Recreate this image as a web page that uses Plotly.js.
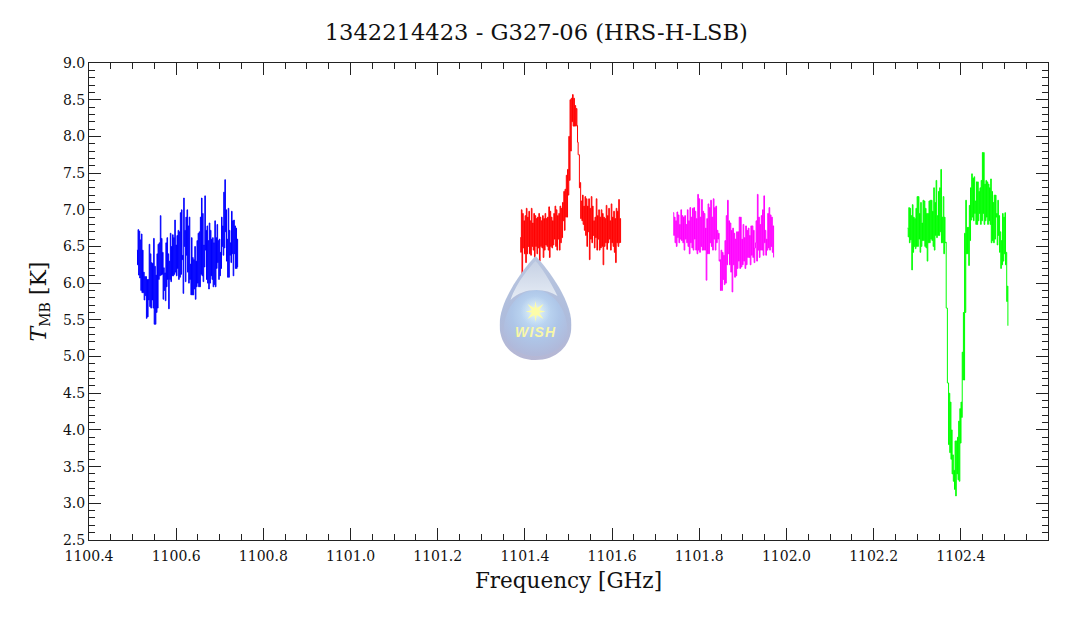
<!DOCTYPE html>
<html><head><meta charset="utf-8">
<script src="https://cdn.plot.ly/plotly-3.0.1.min.js"></script>
<style>html,body{margin:0;padding:0;background:#fff}</style></head><body>
<div id="chart" style="width:1072px;height:618px"></div>
<script>
const titleText = "1342214423 - G327-06 (HRS-H-LSB)";
const xLabel = "Frequency [GHz]";
const yLabel = "<i>T</i><sub><span style=\"font-size:14px\">MB</span></sub> [K]";
const bandBlue = [1100.510, 1100.741], bandRed = [1101.389, 1101.6195], bandMagenta = [1101.740, 1101.9705], bandGreen = [1102.278, 1102.508];
const blueT = [6.45,6.25,6.73,6.11,6.71,6.07,6.59,5.90,6.67,5.87,6.45,5.87,6.15,5.77,6.09,5.83,6.09,5.52,6.05,5.54,6.05,5.77,6.53,5.68,6.40,5.66,6.28,5.77,6.27,5.66,6.61,5.44,6.23,5.44,6.11,5.60,6.40,5.66,6.53,6.05,6.55,6.10,6.92,6.11,6.61,6.12,6.42,5.78,6.21,5.90,6.14,5.76,6.55,5.95,6.62,6.05,6.40,5.65,6.30,6.05,6.68,6.02,6.50,6.10,6.66,6.10,6.62,6.12,6.86,6.15,6.52,6.10,6.65,6.20,6.72,6.05,6.70,6.08,6.96,6.12,7.00,6.32,6.38,5.86,7.16,6.50,6.72,6.02,6.90,6.38,7.00,6.15,6.78,6.00,6.90,6.05,6.26,5.84,6.62,5.84,6.35,5.84,6.32,5.92,6.50,5.78,6.30,5.95,6.58,6.00,6.68,5.95,6.70,5.95,6.90,6.12,7.16,6.10,6.95,6.02,6.52,6.22,7.19,6.45,6.72,6.05,6.78,6.00,6.58,5.92,6.82,6.00,6.72,6.10,6.60,6.05,6.62,5.95,6.55,5.98,6.85,5.95,6.62,6.20,6.80,6.28,6.58,6.05,6.60,6.10,6.42,6.20,6.90,6.50,6.78,6.38,7.24,6.48,7.41,6.70,7.00,6.30,6.60,6.08,7.02,6.08,6.72,6.38,6.55,6.28,6.98,6.40,6.85,6.10,6.86,6.40,6.78,6.20,6.75,6.20,6.60,6.22];
const redT = [6.62,6.42,7.00,6.12,6.95,6.48,6.85,6.40,6.92,6.28,7.02,6.40,6.90,6.50,6.98,6.40,6.85,6.38,7.02,6.50,6.82,6.45,6.95,6.35,6.92,6.50,6.88,6.40,6.90,6.48,6.95,6.30,6.90,6.50,6.85,6.48,6.92,6.35,6.88,6.45,6.95,6.52,6.88,6.50,6.90,6.45,7.04,6.35,6.98,6.50,6.90,6.48,6.85,6.52,6.95,6.60,7.05,6.50,7.00,6.45,6.92,6.60,6.95,6.45,7.05,6.55,7.02,6.62,7.10,6.85,7.25,6.72,7.28,6.90,7.47,6.90,7.55,7.20,8.00,7.40,8.50,7.80,8.52,8.20,8.57,8.14,8.52,8.14,8.42,8.14,8.38,8.15,7.92,7.75,7.75,7.30,7.37,6.88,7.12,6.85,7.20,6.80,7.05,6.72,7.18,6.65,7.15,6.50,7.05,6.70,7.15,6.32,7.02,6.60,7.18,6.55,7.05,6.65,6.85,6.48,6.90,6.62,7.15,6.45,6.92,6.60,7.00,6.45,6.90,6.48,7.00,6.50,6.95,6.25,6.90,6.50,6.88,6.55,7.06,6.46,6.92,6.55,7.02,6.60,6.85,6.45,7.08,6.55,6.90,6.50,6.98,6.42,6.88,6.28,7.02,6.55,6.98,6.50,7.14,6.55,6.88,6.55];
const magentaT = [6.96,6.65,6.90,6.55,6.85,6.50,6.97,6.62,6.93,6.55,6.80,6.60,7.00,6.58,6.92,6.55,6.90,6.45,6.92,6.60,6.80,6.55,7.00,6.50,6.85,6.40,7.03,6.55,6.90,6.48,7.02,6.45,7.03,6.60,6.98,6.45,6.88,6.40,7.21,6.45,7.15,6.42,6.90,6.50,7.14,6.45,6.98,6.45,6.95,6.45,6.75,6.04,6.88,6.40,7.08,6.40,7.03,6.55,7.13,6.50,6.90,6.45,7.15,6.60,7.03,6.45,7.05,6.55,6.72,6.60,6.68,6.30,6.32,5.90,6.45,5.90,6.42,6.05,6.38,5.98,6.58,6.00,6.92,6.25,7.13,6.40,6.85,6.25,6.82,6.15,6.72,5.88,6.75,6.25,6.68,6.08,6.60,6.10,6.70,6.20,6.70,6.30,6.90,6.20,6.90,6.22,6.60,6.25,6.80,6.30,6.62,6.20,6.78,6.25,6.72,6.35,6.75,6.35,6.65,6.25,6.78,6.38,6.78,6.35,6.72,6.28,6.48,6.55,6.85,6.30,7.21,6.45,6.90,6.35,6.80,6.45,6.92,6.45,7.00,6.38,7.19,6.55,6.72,6.38,6.60,6.45,6.95,6.48,7.03,6.45,6.93,6.50,6.90,6.42,6.78,6.35];
const greenT = [6.75,6.63,7.03,6.55,7.02,6.59,6.92,6.18,7.07,6.42,6.90,6.50,6.88,6.47,7.02,6.50,7.18,6.50,7.18,6.60,6.95,6.42,7.10,6.50,6.82,6.58,7.13,6.58,7.12,6.50,7.02,6.48,6.95,6.30,6.95,6.55,7.12,6.55,7.13,6.60,7.13,6.58,6.98,6.50,7.30,6.45,7.10,6.65,7.40,6.62,6.92,6.65,7.25,6.65,7.30,6.70,7.55,6.55,6.90,6.55,7.18,6.40,6.90,6.55,6.56,5.66,5.66,4.64,4.64,3.80,4.50,3.69,4.38,3.60,4.00,3.40,3.66,3.30,3.45,3.19,3.85,3.10,3.85,3.40,3.90,3.32,4.12,3.30,4.29,3.82,4.38,4.17,5.06,4.68,5.60,4.68,6.68,5.60,7.13,6.40,6.76,6.40,6.76,6.24,7.06,6.58,7.30,6.86,7.49,6.90,7.43,6.85,7.45,6.95,7.12,6.80,7.38,6.80,7.38,6.85,7.25,6.95,7.30,6.80,7.40,6.85,7.78,6.95,7.78,6.80,7.35,6.85,7.40,6.90,7.38,6.80,7.35,6.85,7.30,6.80,7.42,6.55,7.25,6.58,7.10,6.55,7.20,6.60,7.20,6.90,6.95,6.52,7.13,6.65,6.92,6.42,6.70,6.20,6.58,6.25,6.95,6.30,6.90,6.40,6.96,6.25,6.42,5.75,5.96,5.42];

const serif = "DejaVu Serif";
const ax = {showline:true, linecolor:"#222", linewidth:1, mirror:"allticks", ticks:"inside", ticklen:12, tickcolor:"#222", tickwidth:1, showgrid:false, zeroline:false, tickformat:".1f", tickfont:{family:serif, size:14, color:"#111"}};
const tr = (c, band, y) => ({type:"scatter", mode:"lines", x0:band[0], dx:(band[1]-band[0])/(y.length-1), y:y, line:{color:c, width:1, shape:"hv"}, hoverinfo:"skip", showlegend:false});
const logo = '<svg xmlns="http://www.w3.org/2000/svg" width="216" height="312" viewBox="0 0 72 104"><defs>'+
'<linearGradient id="a" x1="0" y1="0" x2="0" y2="1"><stop offset="0" stop-color="#b9c6df"/><stop offset="0.6" stop-color="#aebcdc"/><stop offset="1" stop-color="#b6b7d4"/></linearGradient>'+
'<radialGradient id="b" cx="0.5" cy="0.36" r="0.62"><stop offset="0" stop-color="#c8e4fa"/><stop offset="0.6" stop-color="#aec6e8"/><stop offset="1" stop-color="#b0b9da"/></radialGradient>'+
'<radialGradient id="g" cx="0.5" cy="0.5" r="0.5"><stop offset="0" stop-color="#fffde0" stop-opacity="0.8"/><stop offset="1" stop-color="#d8eefc" stop-opacity="0"/></radialGradient>'+
'<linearGradient id="c" x1="0" y1="0" x2="0" y2="1"><stop offset="0" stop-color="#c6d1e4"/><stop offset="1" stop-color="#e6ecf5"/></linearGradient></defs>'+
'<path d="M36 0C29 7 0 41 0 69C0 91 16 104 36 104C56 104 72 91 72 69C72 41 43 7 36 0Z" fill="url(#a)"/>'+
'<path d="M4 76C4 52 20 34 36 34C52 34 68 52 68 76C66 92 50 100 36 100C22 100 6 92 4 76Z" fill="url(#b)"/>'+
'<path d="M36 5C31 10 17 26 11 44C18 37 27 34 37 34C45 34 52 36 58 40C51 25 41 10 36 5Z" fill="url(#c)"/>'+
'<circle cx="36" cy="55" r="15" fill="url(#g)"/>'+
'<path d="M36 45L37.2 52L44 48L39.6 54.2L46 55.5L39.6 56.8L44 63L37.2 59L36 66L34.8 59L28 63L32.4 56.8L26 55.5L32.4 54.2L28 48L34.8 52Z" fill="#fdfca8"/></svg>';
const layout = {
  width:1072, height:618, margin:{l:89,r:24,t:63,b:78}, paper_bgcolor:"#fff", plot_bgcolor:"#fff",
  title:{text:titleText, font:{family:serif, size:22.6, color:"#111"}, x:0.5003, xanchor:"center", y:0.948, yanchor:"middle"},
  xaxis:Object.assign({}, ax, {range:[1100.4,1102.6], dtick:0.2, tick0:1100.4, ticklabelstandoff:3, minor:{dtick:0.05, ticks:"inside", ticklen:6, tickcolor:"#222", tickwidth:1, showgrid:false}, title:{text:xLabel, font:{family:serif, size:21.5, color:"#111"}, standoff:10}}),
  yaxis:Object.assign({}, ax, {range:[2.5,9.0], dtick:0.5, tick0:2.5, minor:{dtick:0.1, ticks:"inside", ticklen:6, tickcolor:"#222", tickwidth:1, showgrid:false}, title:{text:yLabel, font:{family:serif, size:22, color:"#111"}, standoff:10}}),
  images:[{source:"data:image/svg+xml;charset=utf-8,"+encodeURIComponent(logo), xref:"paper", yref:"paper", x:411/960, y:284/477, sizex:72/960, sizey:104/477, xanchor:"left", yanchor:"top", sizing:"stretch", layer:"above"}],
  annotations:[{text:"<b><i>W\u200aI\u200aS\u200aH</i></b>", xref:"paper", yref:"paper", x:447/960, y:208.5/477, showarrow:false, font:{family:"Liberation Sans", size:14, color:"#f8f7a8"}}]
};
Plotly.newPlot("chart",[tr("#0000ff",bandBlue,blueT),tr("#ff0000",bandRed,redT),tr("#ff00ff",bandMagenta,magentaT),tr("#00ff00",bandGreen,greenT)],layout,{staticPlot:true,displayModeBar:false});
</script></body></html>
